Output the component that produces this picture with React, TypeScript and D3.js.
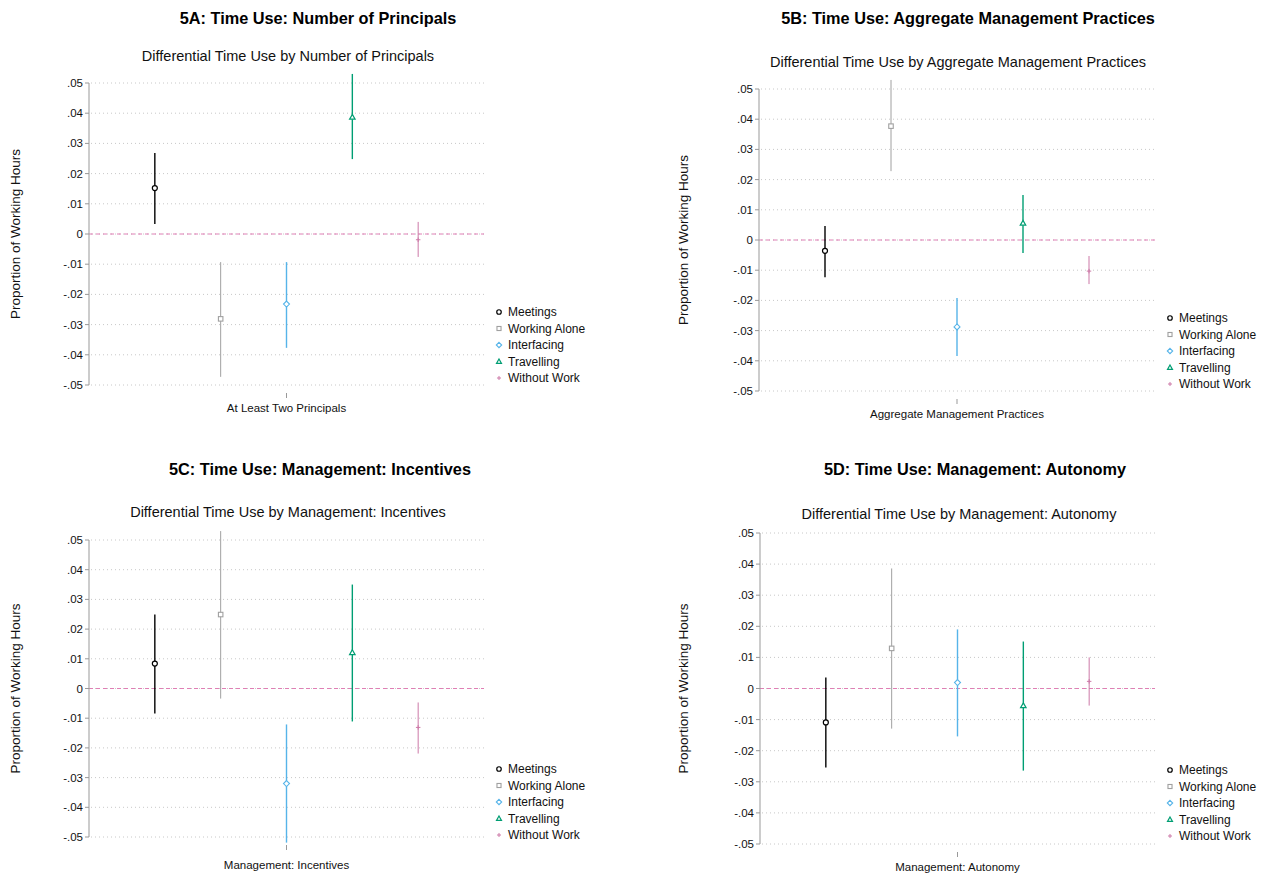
import * as d3 from "d3";
import React from "react";

// series shown in every panel
const series = ["Meetings", "Working Alone", "Interfacing", "Travelling", "Without Work"];
const seriesColors = ["#000000", "#a0a0a0", "#56b4e9", "#009e73", "#cc79a7"];
const seriesShapes = ["circle", "square", "diamond", "triangle", "plus"];

const yTicks = [0.05, 0.04, 0.03, 0.02, 0.01, 0, -0.01, -0.02, -0.03, -0.04, -0.05];
const yTickLabels = [".05", ".04", ".03", ".02", ".01", "0", "-.01", "-.02", "-.03", "-.04", "-.05"];

const panelTitles = [
  "5A: Time Use: Number of Principals",
  "5B: Time Use: Aggregate Management Practices",
  "5C: Time Use: Management: Incentives",
  "5D: Time Use: Management: Autonomy",
];
const panelSubtitles = [
  "Differential Time Use by Number of Principals",
  "Differential Time Use by Aggregate Management Practices",
  "Differential Time Use by Management: Incentives",
  "Differential Time Use by Management: Autonomy",
];
const categoryLabels = [
  "At Least Two Principals",
  "Aggregate Management Practices",
  "Management: Incentives",
  "Management: Autonomy",
];

// point estimates and 95% CI, order follows `series`
const estA = [0.0152, -0.0281, -0.0232, 0.0387, -0.0019];
const lowA = [0.0033, -0.0473, -0.0377, 0.0248, -0.0076];
const highA = [0.0268, -0.0093, -0.0093, 0.053, 0.004];

const estB = [-0.0036, 0.0377, -0.0288, 0.0056, -0.0103];
const lowB = [-0.0123, 0.0228, -0.0384, -0.0043, -0.0146];
const highB = [0.0046, 0.053, -0.0192, 0.0149, -0.0053];

const estC = [0.0084, 0.0249, -0.032, 0.0121, -0.0131];
const lowC = [-0.0084, -0.0034, -0.0519, -0.0111, -0.0219];
const highC = [0.0249, 0.053, -0.0121, 0.035, -0.0047];

const estD = [-0.0109, 0.0129, 0.0019, -0.0055, 0.0023];
const lowD = [-0.0254, -0.0129, -0.0154, -0.0264, -0.0055];
const highD = [0.0035, 0.0386, 0.019, 0.0151, 0.01];

const panelData = [
  [estA, lowA, highA],
  [estB, lowB, highB],
  [estC, lowC, highC],
  [estD, lowD, highD],
];

// layout of each panel in page pixels
const layouts = [
  { titleX: 318, titleY: 24, subX: 288, subY: 61, left: 89, right: 484, top: 83, bottom: 385, labelY: 412, legendY: 312, yTitleX: 20 },
  { titleX: 968, titleY: 24, subX: 958, subY: 67, left: 759, right: 1155, top: 89, bottom: 391, labelY: 418, legendY: 318, yTitleX: 688 },
  { titleX: 320, titleY: 475, subX: 288, subY: 517, left: 89, right: 484, top: 540, bottom: 837, labelY: 869, legendY: 769, yTitleX: 20 },
  { titleX: 975, titleY: 475, subX: 959, subY: 519, left: 760, right: 1155, top: 533, bottom: 844, labelY: 871, legendY: 770, yTitleX: 688 },
];

const font = "'Liberation Sans', Arial, sans-serif";

function Marker({ shape, x, y, color, s }: { shape: string; x: number; y: number; color: string; s: number }) {
  if (shape === "circle") return <circle cx={x} cy={y} r={s * 0.5} fill="white" stroke={color} strokeWidth={1.2} />;
  if (shape === "square")
    return <rect x={x - s * 0.45} y={y - s * 0.45} width={s * 0.9} height={s * 0.9} fill="white" stroke={color} strokeWidth={1.1} />;
  if (shape === "diamond") {
    const d = s * 0.6;
    return <path d={`M${x},${y - d}L${x + d},${y}L${x},${y + d}L${x - d},${y}Z`} fill="white" stroke={color} strokeWidth={1.1} />;
  }
  if (shape === "triangle") {
    const d = s * 0.55;
    return <path d={`M${x},${y - d}L${x + d},${y + d * 0.75}L${x - d},${y + d * 0.75}Z`} fill="white" stroke={color} strokeWidth={1.2} />;
  }
  const d = s * 0.45;
  return <path d={`M${x - d},${y}H${x + d}M${x},${y - d}V${y + d}`} stroke={color} strokeWidth={1} />;
}

function Panel({ idx }: { idx: number }) {
  const L = layouts[idx];
  const [est, low, high] = panelData[idx];
  const y = d3.scaleLinear().domain([-0.05, 0.05]).range([L.bottom, L.top]);
  const x = d3.scalePoint<string>().domain(series).range([L.left, L.right]).padding(1);
  const cx = (L.left + L.right) / 2;
  const midY = (L.top + L.bottom) / 2;

  return (
    <g fontFamily={font}>
      <text x={L.titleX} y={L.titleY} textAnchor="middle" fontSize={16.3} fontWeight="bold" fill="#000">
        {panelTitles[idx]}
      </text>
      <text x={L.subX} y={L.subY} textAnchor="middle" fontSize={14.5} fill="#111">
        {panelSubtitles[idx]}
      </text>
      <text
        transform={`translate(${L.yTitleX},${midY}) rotate(-90)`}
        textAnchor="middle"
        fontSize={13.5}
        fill="#111"
      >
        Proportion of Working Hours
      </text>

      {/* grid */}
      {yTicks.map((t) => (
        <line key={"g" + t} x1={L.left + 2} x2={L.right} y1={y(t)} y2={y(t)} stroke="#c8c8c8" strokeDasharray="1 3" />
      ))}
      {/* zero line */}
      <line x1={L.left} x2={L.right} y1={y(0)} y2={y(0)} stroke="#e07fb5" strokeDasharray="4 3" strokeWidth={1} />

      {/* y axis */}
      <line x1={L.left} x2={L.left} y1={y(0.05)} y2={y(-0.05)} stroke="#999" strokeWidth={1} />
      {yTicks.map((t, i) => (
        <g key={"t" + t}>
          <line x1={L.left - 4} x2={L.left} y1={y(t)} y2={y(t)} stroke="#999" />
          <text x={L.left - 6} y={y(t)} dy="0.35em" textAnchor="end" fontSize={11.5} fill="#111">
            {yTickLabels[i]}
          </text>
        </g>
      ))}

      {/* x category */}
      <line x1={cx} x2={cx} y1={L.bottom + 8} y2={L.bottom + 13} stroke="#999" />
      <text x={cx} y={L.labelY} textAnchor="middle" fontSize={11.5} fill="#111">
        {categoryLabels[idx]}
      </text>

      {/* error bars and points */}
      {series.map((s, i) => (
        <g key={s}>
          <line
            x1={x(s)}
            x2={x(s)}
            y1={y(low[i])}
            y2={y(high[i])}
            stroke={seriesColors[i]}
            strokeWidth={i === 1 || i === 4 ? 1 : 1.4}
          />
          <Marker shape={seriesShapes[i]} x={x(s)!} y={y(est[i])} color={seriesColors[i]} s={5} />
        </g>
      ))}

      {/* legend */}
      {series.map((s, i) => (
        <g key={"l" + s}>
          <Marker shape={seriesShapes[i]} x={L.right + 15} y={L.legendY + i * 16.5} color={seriesColors[i]} s={4.5} />
          <text x={L.right + 24} y={L.legendY + i * 16.5} dy="0.35em" fontSize={12} fill="#111">
            {s}
          </text>
        </g>
      ))}
    </g>
  );
}

export default function App() {
  return (
    <svg width={1268} height={876} style={{ display: "block", position: "absolute", left: 0, top: 0, background: "white" }}>
      <rect width={1268} height={876} fill="white" />
      {[0, 1, 2, 3].map((i) => (
        <Panel key={i} idx={i} />
      ))}
    </svg>
  );
}
